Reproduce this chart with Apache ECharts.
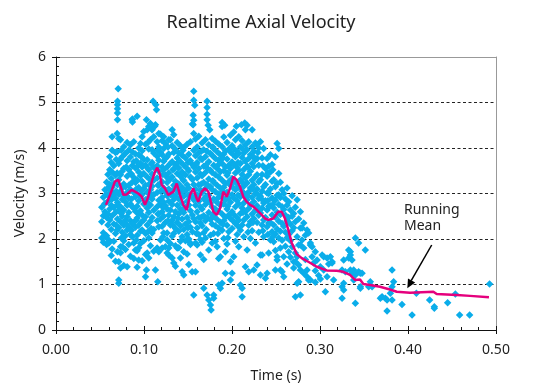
<!DOCTYPE html>
<html><head><meta charset="utf-8">
<script src="https://cdn.jsdelivr.net/npm/echarts@6/dist/echarts.min.js"></script>
<style>html,body{margin:0;padding:0;background:#fff}#c{width:540px;height:388px}</style>
</head><body><div id="c"></div>
<script>
// x tick labels / axis
const xTicks = [0.00, 0.10, 0.20, 0.30, 0.40, 0.50];
const yTicks = [0, 1, 2, 3, 4, 5, 6];

// scatter samples: each row = [time, velocities...]
const earlyCols = [
 [0.0520, 2.70, 2.38, 2.02],
 [0.0538, 2.92, 2.51, 2.14, 1.93],
 [0.0556, 3.08, 2.78, 2.60, 2.05],
 [0.0575, 3.25, 2.99, 2.47, 2.07, 1.88],
 [0.0590, 3.42, 3.12, 2.83, 2.55, 2.31],
 [0.0600, 2.95, 1.98, 1.91],
 [0.0611, 3.81, 3.52, 3.20, 2.96, 2.66, 2.42],
 [0.0628, 3.68, 3.33, 3.05, 2.74, 2.21, 1.64],
 [0.0638, 4.25, 3.95, 3.47, 3.14, 2.88, 2.51, 1.78],
 [0.0657, 3.61, 3.22, 2.97, 2.69, 2.33, 1.95],
 [0.0676, 3.90, 3.40, 2.89, 2.58, 2.12, 1.51],
 [0.0695, 4.32, 3.92, 3.45, 2.75, 2.20],
 [0.0699, 5.03, 4.95, 4.86, 4.77, 4.62, 3.19, 2.80, 2.44, 1.72],
 [0.0707, 5.30],
 [0.0713, 4.21, 3.66, 3.30, 2.98, 2.63, 2.25, 1.50, 1.10, 1.03],
 [0.0733, 4.18, 3.76, 3.41, 3.05, 2.71, 2.38, 1.83, 1.70, 1.36],
 [0.0752, 3.81, 3.49, 3.12, 2.87, 2.50, 2.15, 1.83],
 [0.0770, 4.03, 3.55, 3.21, 2.93, 2.64, 2.30, 1.96, 1.42],
 [0.0789, 3.88, 3.15, 2.82, 2.41, 2.07, 1.77],
 [0.0808, 4.12, 3.72, 3.38, 3.02, 2.74, 2.49, 2.20, 1.39],
 [0.0827, 3.95, 3.52, 3.18, 2.90, 2.58, 2.26, 1.88],
 [0.0846, 4.07, 3.80, 3.44, 3.09, 2.77, 2.40, 2.10, 1.62],
 [0.0866, 4.62, 3.92, 3.61, 3.25, 2.71, 2.33, 2.05],
 [0.0869, 4.64, 4.57],
 [0.0884, 4.14, 3.70, 3.35, 3.02, 2.68, 2.37, 1.91, 1.57],
 [0.0903, 3.87, 3.56, 3.24, 2.93, 2.61, 2.26, 1.76],
 [0.0922, 4.70, 3.59, 3.30, 2.99, 2.72, 2.46, 2.08, 1.74, 1.38],
 [0.0940, 4.00, 3.85, 3.47, 3.13, 2.84, 2.55, 2.30, 1.81, 1.54],
 [0.0960, 4.10, 3.66, 3.39, 2.93, 2.62, 2.17, 1.90],
 [0.0979, 4.25, 3.94, 3.58, 3.27, 2.98, 2.53, 2.20, 1.52],
 [0.0997, 4.36, 3.75, 3.44, 3.11, 2.77, 2.42, 1.96]
];
const midCols = [
 [0.1017, 4.08, 3.62, 3.18, 2.86, 2.49, 2.12, 1.66, 1.17],
 [0.1028, 4.62, 1.32],
 [0.1036, 4.40, 3.74, 3.36, 3.03, 2.68, 2.31, 1.69],
 [0.1054, 4.47, 3.98, 3.52, 3.20, 2.91, 2.58, 2.02, 1.58],
 [0.1073, 4.54, 4.18, 3.30, 3.08, 2.75, 2.39, 1.85],
 [0.1092, 4.40, 3.96, 3.68, 3.43, 3.16, 2.88, 2.47, 2.13],
 [0.1104, 5.03],
 [0.1111, 4.25, 3.89, 3.57, 3.29, 2.97, 2.63, 2.21, 1.73],
 [0.1122, 4.48],
 [0.1130, 4.51, 1.32],
 [0.1134, 4.95],
 [0.1142, 4.84],
 [0.1149, 4.14, 3.82, 3.61, 3.34, 3.02, 2.71, 2.40, 1.80],
 [0.1156, 1.06],
 [0.1168, 4.32, 4.02, 3.73, 3.49, 3.18, 2.85, 2.56, 2.27, 1.72],
 [0.1187, 4.30, 3.90, 3.22, 3.05, 2.77, 2.44, 1.98],
 [0.1206, 4.16, 3.85, 3.58, 3.26, 2.92, 2.60, 2.28, 1.80],
 [0.1224, 4.25, 3.99, 3.71, 3.52, 3.12, 2.81, 2.50, 2.13],
 [0.1243, 4.10, 3.77, 3.40, 3.03, 2.73, 2.36, 1.83],
 [0.1263, 3.81, 3.58, 3.24, 2.95, 2.66, 2.13, 1.98, 1.69],
 [0.1281, 4.18, 3.87, 3.45, 3.10, 2.83, 2.52, 1.80, 1.65],
 [0.1300, 4.18, 3.66, 3.32, 2.97, 2.64, 2.31, 1.90],
 [0.1320, 4.40, 4.05, 3.70, 3.36, 3.06, 2.76, 2.41, 2.06, 1.58],
 [0.1338, 4.29, 3.90, 3.54, 3.18, 2.87, 2.49, 2.12, 1.47],
 [0.1357, 3.97, 3.63, 3.27, 2.93, 2.60, 2.23, 1.85, 1.40],
 [0.1377, 4.12, 3.78, 3.44, 3.09, 2.74, 2.36, 1.80],
 [0.1395, 3.89, 3.56, 3.21, 2.88, 2.55, 2.17, 1.81],
 [0.1414, 4.05, 3.70, 3.38, 3.02, 2.66, 2.29, 1.95, 1.58],
 [0.1433, 3.84, 3.47, 3.13, 2.79, 2.44, 2.05, 1.28],
 [0.1452, 4.01, 3.62, 3.28, 2.94, 2.58, 2.21, 1.72, 1.21],
 [0.1471, 3.78, 3.41, 3.06, 2.69, 2.33, 1.96],
 [0.1490, 4.08, 3.55, 3.19, 2.83, 2.47, 2.10, 1.98, 1.67],
 [0.1509, 3.86, 3.50, 3.12, 2.75, 2.38, 2.00, 1.44],
 [0.1528, 4.14, 3.72, 3.36, 2.99, 2.62, 2.26, 1.91, 1.88],
 [0.1547, 1.28],
 [0.1550, 4.53, 3.64, 3.31, 2.92, 2.53, 2.16],
 [0.1558, 4.72, 4.51],
 [0.1565, 5.25, 5.05, 4.61, 4.32, 3.95, 3.58, 3.20, 2.86, 2.45, 0.77],
 [0.1577, 4.94],
 [0.1585, 4.20, 3.83, 3.47, 3.10, 2.74, 2.38, 1.91, 1.28],
 [0.1604, 4.02, 3.68, 3.34, 2.97, 2.60, 2.24, 1.87],
 [0.1622, 4.26, 3.90, 3.55, 3.19, 2.83, 2.47, 2.10],
 [0.1641, 3.78, 3.43, 3.07, 2.71, 2.35, 1.99, 1.65],
 [0.1660, 4.11, 3.75, 3.39, 3.02, 2.66, 2.29, 1.93],
 [0.1679, 3.96, 3.60, 3.24, 2.88, 2.51, 2.14, 1.55, 0.92],
 [0.1698, 4.18, 3.81, 3.46, 3.11, 2.76, 2.40, 2.02],
 [0.1717, 5.03, 4.89, 4.74, 4.62, 3.93, 3.56, 3.20, 2.84, 2.47, 0.77],
 [0.1729, 4.50],
 [0.1736, 4.07, 3.70, 3.32, 2.96, 2.58, 1.76, 0.66],
 [0.1747, 4.40],
 [0.1755, 3.88, 3.51, 3.15, 2.79, 2.43, 2.08, 0.55],
 [0.1763, 0.44],
 [0.1774, 4.21, 3.84, 3.46, 3.09, 2.71, 2.33, 1.91],
 [0.1792, 3.99, 3.62, 3.25, 2.88, 2.50, 2.12, 0.77, 0.70],
 [0.1811, 4.15, 3.77, 3.41, 3.04, 2.66, 2.29, 1.95],
 [0.1831, 3.92, 3.55, 3.18, 2.80, 2.43, 1.83],
 [0.1849, 4.09, 3.73, 3.36, 2.99, 2.61, 2.24, 1.57, 0.99],
 [0.1868, 3.85, 3.48, 3.12, 2.74, 2.37, 1.61, 0.92],
 [0.1888, 4.56, 4.47, 4.03, 3.66, 3.29, 2.92, 2.55, 2.19, 1.03],
 [0.1907, 4.24, 3.87, 3.50, 3.14, 2.77, 2.40, 2.01],
 [0.1917, 4.50],
 [0.1925, 3.94, 3.58, 3.22, 2.85, 2.48, 1.72, 1.25],
 [0.1944, 4.12, 3.76, 3.40, 3.03, 2.66, 2.30, 1.89],
 [0.1963, 3.97, 3.62, 3.26, 2.89, 2.53, 2.16],
 [0.1982, 4.28, 3.91, 3.55, 3.18, 2.81, 2.45, 1.50, 1.10]
];
const lateCols = [
 [0.2001, 4.05, 3.69, 3.33, 2.97, 2.60, 2.23, 1.25],
 [0.2020, 4.35, 3.99, 3.63, 3.27, 2.90, 2.54, 1.61],
 [0.2039, 4.18, 3.81, 3.45, 3.08, 2.71, 2.34, 1.95],
 [0.2050, 4.48],
 [0.2058, 3.93, 3.57, 3.21, 2.84, 2.47, 2.10],
 [0.2077, 4.25, 3.88, 3.51, 3.14, 2.77, 2.41, 1.83],
 [0.2096, 4.02, 3.66, 3.30, 2.93, 2.56, 2.19, 0.99],
 [0.2107, 4.51],
 [0.2115, 4.16, 3.79, 3.42, 3.05, 2.68, 2.31, 0.92, 0.73],
 [0.2134, 3.89, 3.53, 3.16, 2.79, 2.42, 2.05],
 [0.2145, 4.55],
 [0.2152, 4.40, 4.07, 3.71, 3.34, 2.97, 2.60, 1.39],
 [0.2172, 4.50, 3.96, 3.60, 3.23, 2.86, 2.49, 1.76],
 [0.2190, 4.14, 3.77, 3.41, 3.04, 2.67, 2.30, 1.28],
 [0.2209, 3.85, 3.49, 3.12, 2.75, 2.38, 2.01],
 [0.2229, 4.40, 4.03, 3.66, 3.29, 2.92, 2.55, 2.18],
 [0.2247, 3.93, 3.59, 3.19, 2.82, 2.45, 1.32],
 [0.2266, 4.11, 3.74, 3.37, 3.00, 2.63, 1.91],
 [0.2285, 4.07, 3.77, 3.41, 3.10, 2.73, 2.36, 1.43],
 [0.2304, 4.00, 3.62, 3.26, 2.89, 2.52, 2.15],
 [0.2323, 4.14, 3.30, 2.94, 2.57, 1.65, 1.21],
 [0.2342, 3.78, 3.42, 3.05, 2.68, 2.31, 1.65],
 [0.2360, 3.99, 3.15, 2.79, 2.42, 2.05],
 [0.2380, 3.55, 3.20, 2.84, 2.47, 1.14],
 [0.2399, 3.77, 3.38, 3.01, 2.64, 2.27, 1.25],
 [0.2417, 3.60, 3.00, 2.72, 2.35, 1.69],
 [0.2436, 3.85, 3.47, 3.10, 2.73, 2.36, 1.98],
 [0.2455, 3.64, 3.27, 2.90, 2.53, 2.16],
 [0.2474, 3.30, 2.86, 2.68, 2.31, 1.94],
 [0.2493, 3.81, 3.15, 2.85, 2.48, 2.11, 1.75, 1.32],
 [0.2513, 4.10, 3.22, 2.96, 2.59, 2.22, 1.61, 1.54],
 [0.2531, 3.99, 3.44, 2.97, 2.76, 2.39, 2.02],
 [0.2550, 3.25, 2.91, 2.54, 2.17, 1.80, 1.32],
 [0.2569, 3.08, 2.71, 2.34, 1.97, 1.28]
];
// extra samples sitting between the columns above
const fillCols = [
 [0.0684, 3.75, 3.05, 2.30],
 [0.0742, 3.95, 2.56, 2.02],
 [0.0798, 3.58, 2.95, 2.33],
 [0.0857, 3.43, 2.88, 2.19],
 [0.0913, 3.72, 3.10, 2.42, 1.98],
 [0.0969, 3.81, 3.06, 2.37],
 [0.1045, 4.12, 3.55, 2.79, 2.16],
 [0.1082, 3.65, 2.98, 2.23],
 [0.1158, 3.95, 3.18, 2.55],
 [0.1215, 3.42, 2.70, 2.05],
 [0.1272, 4.02, 3.33, 2.40],
 [0.1329, 3.52, 2.95, 2.30],
 [0.1386, 3.68, 3.02, 2.45],
 [0.1443, 3.95, 3.30, 2.65],
 [0.1500, 3.68, 2.96, 2.25],
 [0.1595, 3.65, 2.92, 2.12],
 [0.1651, 3.93, 3.21, 2.48],
 [0.1707, 3.63, 2.94, 2.21],
 [0.1783, 4.02, 3.28, 2.52],
 [0.1840, 3.62, 2.90, 2.12],
 [0.1897, 3.78, 3.05, 2.32],
 [0.1953, 3.45, 2.72, 2.03],
 [0.2011, 3.86, 3.13, 2.40],
 [0.2068, 3.68, 2.96, 2.28],
 [0.2124, 3.97, 3.23, 2.58],
 [0.2181, 3.58, 2.95, 2.15],
 [0.2238, 3.82, 3.10, 2.36],
 [0.2294, 3.90, 2.98, 2.62],
 [0.2351, 3.61, 2.85, 2.18],
 [0.2408, 3.45, 2.84, 2.10],
 [0.2464, 3.52, 2.76, 2.05]
];
const decayCols = [
 [0.2588, 3.00, 2.65, 2.28, 1.61, 1.17],
 [0.2607, 2.88, 2.52, 2.15, 1.84],
 [0.2626, 3.12, 2.74, 2.40, 2.03, 1.45],
 [0.2644, 2.82, 2.47, 2.10, 1.72],
 [0.2664, 2.64, 2.33, 1.96, 1.60],
 [0.2683, 2.95, 2.50, 2.18, 1.83],
 [0.2701, 2.56, 2.25, 1.50, 1.36],
 [0.2720, 2.70, 2.38, 1.69, 1.50, 0.73],
 [0.2740, 2.86, 2.05, 1.61, 1.03],
 [0.2758, 2.44, 1.87, 1.43, 1.06],
 [0.2777, 2.60, 2.24, 1.87, 1.32, 0.77],
 [0.2796, 2.24, 1.98],
 [0.2815, 2.35, 1.80, 1.25],
 [0.2834, 2.08, 1.55],
 [0.2853, 2.20, 1.32, 1.17],
 [0.2871, 2.13, 1.10],
 [0.2891, 1.91, 1.87, 1.10],
 [0.2910, 1.83, 1.61],
 [0.2928, 1.47],
 [0.2947, 1.72, 1.30, 1.05],
 [0.2967, 1.54],
 [0.2985, 1.20],
 [0.3004, 1.39, 1.12],
 [0.3024, 1.65],
 [0.3042, 1.61, 1.32],
 [0.3061, 0.84],
 [0.3080, 1.58, 1.17],
 [0.3099, 1.45],
 [0.3118, 1.61],
 [0.3137, 1.50, 1.47],
 [0.3155, 1.10]
];
const tailCols = [
 [0.3251, 1.32, 0.95, 0.70],
 [0.3269, 1.54, 1.03, 0.88],
 [0.3288, 1.28],
 [0.3326, 1.76, 1.58],
 [0.3345, 1.72, 1.65, 1.32],
 [0.3364, 1.54, 1.25],
 [0.3383, 1.32, 1.10],
 [0.3402, 2.02, 1.21, 0.59],
 [0.3439, 1.91, 1.28],
 [0.3459, 1.25, 0.95, 0.92],
 [0.3478, 1.25],
 [0.3515, 1.76],
 [0.3553, 0.95],
 [0.3572, 1.06],
 [0.3592, 0.95],
 [0.3686, 0.70],
 [0.3705, 0.73],
 [0.3743, 0.70],
 [0.3762, 0.66, 0.42],
 [0.3800, 0.81],
 [0.3819, 1.32, 0.95, 0.66],
 [0.3837, 1.06],
 [0.3932, 0.56],
 [0.4046, 0.33],
 [0.4095, 0.81],
 [0.4246, 0.66],
 [0.4299, 0.51, 0.48],
 [0.4450, 0.60],
 [0.4538, 0.79],
 [0.4587, 0.33],
 [0.4700, 0.33],
 [0.4927, 1.01]
];

// running mean trace
const meanT = [0.0568,0.0614,0.0670,0.0708,0.0735,0.0765,0.0803,0.0860,0.0898,0.0935,0.0974,0.1011,0.1049,0.1088,0.1125,0.1151,0.1182,0.1201,0.1239,0.1276,0.1295,0.1333,0.1372,0.1409,0.1447,0.1485,0.1523,0.1560,0.1599,0.1617,0.1656,0.1693,0.1731,0.1788,0.1826,0.1864,0.1901,0.1940,0.1977,0.2015,0.2053,0.2091,0.2128,0.2167,0.2205,0.2242,0.2281,0.2338,0.2375,0.2413,0.2469,0.2526,0.2565,0.2602,0.2640,0.2678,0.2735,0.2792,0.2867,0.2963,0.3076,0.3190,0.3265,0.3341,0.3398,0.3455,0.3492,0.3568,0.3682,0.3795,0.3872,0.4023,0.4288,0.4326,0.4553,0.4705,0.4920];
const meanV = [2.75,2.97,3.26,3.30,3.15,2.97,2.98,3.08,3.04,3.00,2.93,2.75,2.93,3.26,3.48,3.57,3.41,3.19,3.11,2.97,2.93,3.04,3.22,2.97,2.75,2.64,2.97,3.11,2.89,2.82,3.04,3.11,3.04,2.60,2.53,2.67,3.04,2.93,3.11,3.37,3.30,3.15,2.93,2.82,2.75,2.71,2.64,2.53,2.45,2.42,2.45,2.60,2.60,2.45,2.20,1.92,1.67,1.58,1.50,1.39,1.31,1.30,1.28,1.21,1.10,1.11,1.01,0.99,0.95,0.89,0.84,0.82,0.84,0.79,0.77,0.75,0.72];

const FONT = '"Noto Sans", "DejaVu Sans", sans-serif';
const toPairs = cols => cols.flatMap(r => r.slice(1).map(v => [r[0], v]));
const scatterData = [].concat(toPairs(earlyCols), toPairs(midCols), toPairs(lateCols), toPairs(fillCols), toPairs(decayCols), toPairs(tailCols));
const meanData = meanT.map((t, i) => [t, meanV[i]]);

const chart = echarts.init(document.getElementById('c'), null, {renderer: 'canvas'});
const xBase = {type: 'value', min: xTicks[0], max: xTicks[xTicks.length - 1], interval: 0.1, gridIndex: 0};
const yBase = {type: 'value', min: yTicks[0], max: yTicks[yTicks.length - 1], interval: 1, gridIndex: 0};
chart.setOption({
  animation: false,
  backgroundColor: '#fff',
  title: {text: 'Realtime Axial Velocity', left: 256, top: 9, textAlign: 'center',
          textStyle: {fontFamily: FONT, fontSize: 18, fontWeight: 'normal', color: '#222'}},
  grid: {left: 56, right: 44, top: 57, bottom: 58, containLabel: false},
  xAxis: [
    Object.assign({}, xBase, {position: 'bottom',
      axisLine: {show: true, onZero: false, lineStyle: {color: '#111', width: 1}},
      axisTick: {show: true, inside: true, length: 4, lineStyle: {color: '#111'}},
      minorTick: {show: true, splitNumber: 5, length: 3, lineStyle: {color: '#111'}},
      axisLabel: {fontFamily: FONT, fontSize: 14, color: '#222', margin: 13, formatter: v => v.toFixed(2)},
      splitLine: {show: false},
      name: 'Time (s)', nameLocation: 'middle', nameGap: 39,
      nameTextStyle: {fontFamily: FONT, fontSize: 14, color: '#222'}}),
    Object.assign({}, xBase, {position: 'bottom',
      axisLine: {show: false}, axisTick: {show: true, inside: false, length: 4, lineStyle: {color: '#111'}},
      axisLabel: {show: false}, splitLine: {show: false}}),
    Object.assign({}, xBase, {position: 'top',
      axisLine: {show: true, onZero: false, lineStyle: {color: '#999', width: 1}},
      axisTick: {show: false}, axisLabel: {show: false}, splitLine: {show: false}})
  ],
  yAxis: [
    Object.assign({}, yBase, {position: 'left',
      axisLine: {show: true, onZero: false, lineStyle: {color: '#111', width: 1}},
      axisTick: {show: true, inside: true, length: 4, lineStyle: {color: '#111'}},
      minorTick: {show: true, splitNumber: 5, length: 3, lineStyle: {color: '#111'}},
      axisLabel: {fontFamily: FONT, fontSize: 14, color: '#222', margin: 10},
      splitLine: {show: true, lineStyle: {type: [3, 2.5], width: 1,
        color: ['#222', '#222', '#222', '#222', '#222', '#222', 'rgba(0,0,0,0)']}},
      name: 'Velocity (m/s)', nameLocation: 'middle', nameGap: 27,
      nameTextStyle: {fontFamily: FONT, fontSize: 14, color: '#222'}}),
    Object.assign({}, yBase, {position: 'left',
      axisLine: {show: false}, axisTick: {show: true, inside: false, length: 4, lineStyle: {color: '#111'}},
      axisLabel: {show: false}, splitLine: {show: false}}),
    Object.assign({}, yBase, {position: 'right',
      axisLine: {show: true, onZero: false, lineStyle: {color: '#999', width: 1}},
      axisTick: {show: false}, axisLabel: {show: false}, splitLine: {show: false}})
  ],
  series: [
    {type: 'scatter', name: 'Velocity', xAxisIndex: 0, yAxisIndex: 0, data: scatterData,
     symbol: 'diamond', symbolSize: 7.5, itemStyle: {color: '#0AADEA', opacity: 1}, z: 2},
    {type: 'line', name: 'Running Mean', xAxisIndex: 0, yAxisIndex: 0, data: meanData,
     showSymbol: false, symbol: 'none', lineStyle: {color: '#E5007D', width: 2.5}, z: 3}
  ],
  graphic: [
    {type: 'text', left: 404, top: 202, z: 10,
     style: {text: 'Running\nMean', fontFamily: FONT, fontSize: 14, fill: '#222', align: 'center', lineHeight: 16}},
    {type: 'line', z: 10, shape: {x1: 431.7, y1: 245, x2: 411.2, y2: 280.6}, style: {stroke: '#000', lineWidth: 1.5}},
    {type: 'polygon', z: 10, shape: {points: [[407.3, 288.3], [415.2, 282.5], [408.0, 278.4]]}, style: {fill: '#000'}}
  ]
});
</script></body></html>
